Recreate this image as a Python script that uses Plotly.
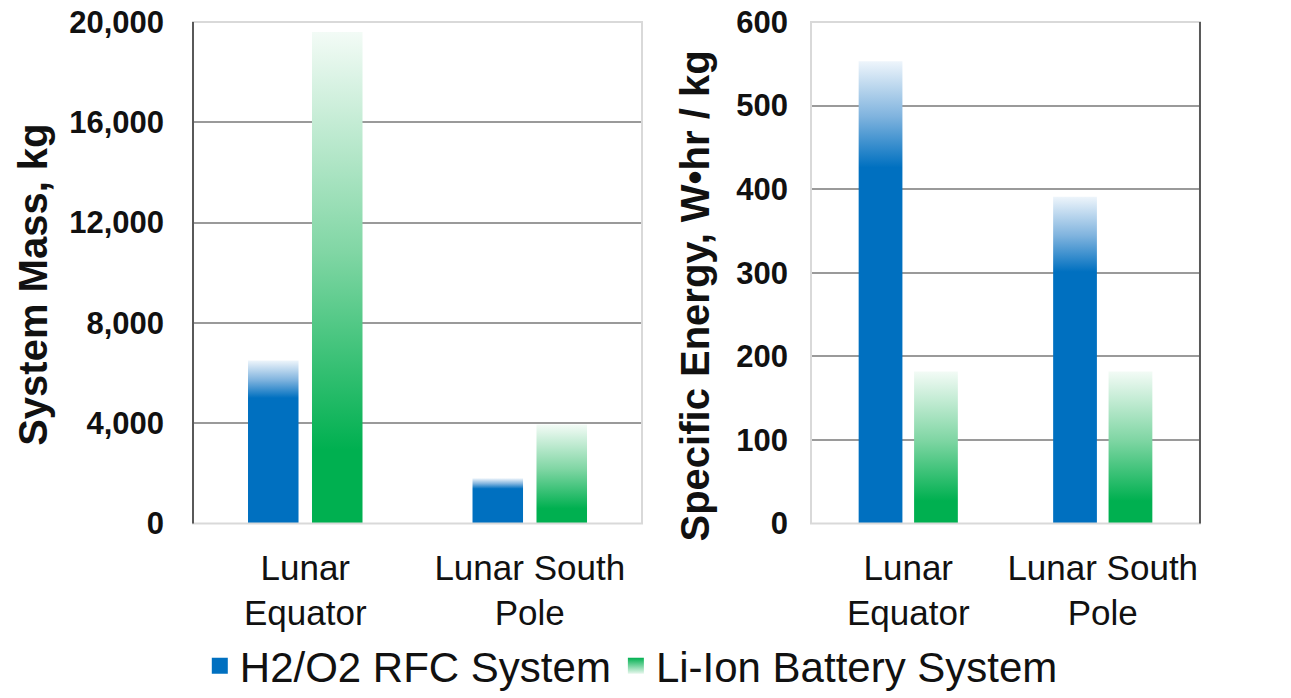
import plotly.graph_objects as go

# ---- data ----
categories = ["Lunar<br>Equator", "Lunar South<br>Pole"]
series_names = ["H2/O2 RFC System", "Li-Ion Battery System"]
mass_h2 = [6500, 1800]
mass_li = [19600, 3950]
energy_h2 = [553, 391]
energy_li = [182, 182]
mass_ticks = [0, 4000, 8000, 12000, 16000, 20000]
energy_ticks = [0, 100, 200, 300, 400, 500, 600]

# ---- styles ----
BLUE = "#0070C0"
GREEN = "#00B050"
grad_h2 = [[0, BLUE], [0.77, BLUE], [0.88, "#7fb3de"], [1, "#eef5fb"]]
grad_li = [[0, GREEN], [0.15, GREEN], [0.55, "#80d6a4"], [1, "#f3fbf6"]]
BAR_W = 0.225
OFFSET = 0.1425
FONT = "Liberation Sans, Arial, sans-serif"

fig = go.Figure()


def add_bars(values, offset, grad, xa, ya, group):
    for i, v in enumerate(values):
        c = i + offset
        x0, x1 = c - BAR_W / 2, c + BAR_W / 2
        fig.add_trace(go.Scatter(
            x=[x0, x1, x1, x0, x0], y=[0, 0, v, v, 0],
            fill="toself", mode="none",
            fillgradient=dict(type="vertical", colorscale=grad),
            xaxis=xa, yaxis=ya, showlegend=False, legendgroup=group,
            hoverinfo="skip",
        ))


add_bars(mass_h2, -OFFSET, grad_h2, "x", "y", "h2")
add_bars(mass_li, OFFSET, grad_li, "x", "y", "li")
add_bars(energy_h2, -OFFSET, grad_h2, "x2", "y2", "h2")
add_bars(energy_li, OFFSET, grad_li, "x2", "y2", "li")

# legend entries
fig.add_trace(go.Scatter(x=[None], y=[None], name=series_names[0], mode="markers",
                         marker=dict(symbol="square", size=16, color=BLUE),
                         legendgroup="h2", showlegend=True))
fig.add_trace(go.Scatter(x=[None], y=[None], name=series_names[1], mode="markers",
                         marker=dict(symbol="square", size=16, color=GREEN,
                                     gradient=dict(type="vertical", color="#e6f7ec")),
                         legendgroup="li", showlegend=True))

GRID = "#9a9a9a"
common_x = dict(range=[-0.5, 1.5], tickvals=[0, 1], ticktext=categories,
                showgrid=False, zeroline=False, showline=False, automargin=False,
                tickfont=dict(family=FONT, size=35, color="#111111"),
                ticks="", ticklabelstandoff=20, fixedrange=True)
common_y = dict(showgrid=True, gridcolor=GRID, gridwidth=1.5, zeroline=False,
                showline=False, ticks="", automargin=False,
                tickfont=dict(family=FONT, size=31, color="#111111", weight="bold"),
                fixedrange=True)

fig.update_layout(
    width=1291, height=698,
    margin=dict(l=0, r=0, t=0, b=0, autoexpand=False),
    paper_bgcolor="white", plot_bgcolor="white",
    xaxis=dict(domain=[0.1495, 0.4973], anchor="y", **common_x),
    yaxis=dict(domain=[0.25, 0.9685], anchor="x", range=[0, 20000],
               tickvals=mass_ticks, tickformat=",d", ticklabelstandoff=28, **common_y),
    xaxis2=dict(domain=[0.6282, 0.9295], anchor="y2", **common_x),
    yaxis2=dict(domain=[0.25, 0.9685], anchor="x2", range=[0, 600],
                tickvals=energy_ticks, ticklabelstandoff=22, **common_y),
    showlegend=True,
    legend=dict(orientation="h", x=0.489, xanchor="center", y=0.046, yanchor="middle",
                font=dict(family=FONT, size=42, color="#111111"),
                itemwidth=30, tracegroupgap=0, bgcolor="rgba(0,0,0,0)"),
)

# plot-area borders
LIGHT = "#d9d9d9"
DARK = "#595959"
shapes = []
for xr, yr in [("x domain", "y domain"), ("x2 domain", "y2 domain")]:
    shapes.append(dict(type="rect", xref=xr, yref=yr, x0=0, x1=1, y0=0, y1=1,
                       line=dict(color=LIGHT, width=2), layer="above"))
shapes.append(dict(type="line", xref="x domain", yref="y domain", x0=0, x1=0, y0=0, y1=1,
                   line=dict(color=DARK, width=2), layer="above"))
shapes.append(dict(type="line", xref="x2 domain", yref="y2 domain", x0=1, x1=1, y0=0, y1=1,
                   line=dict(color=DARK, width=2), layer="above"))
fig.update_layout(shapes=shapes)

# y-axis titles
fig.add_annotation(text="System Mass, kg", xref="paper", yref="paper",
                   x=0.0256, y=0.592, xanchor="center", yanchor="middle",
                   textangle=-90, showarrow=False,
                   font=dict(family=FONT, size=40, color="#111111", weight="bold"))
fig.add_annotation(text="Specific Energy, W•hr / kg", xref="paper", yref="paper",
                   x=0.538, y=0.576, xanchor="center", yanchor="middle",
                   textangle=-90, showarrow=False,
                   font=dict(family=FONT, size=40, color="#111111", weight="bold"))

fig.write_html("out.html", config={"displayModeBar": False},
               post_script="document.body.style.margin='0';document.body.style.overflow='hidden';")
